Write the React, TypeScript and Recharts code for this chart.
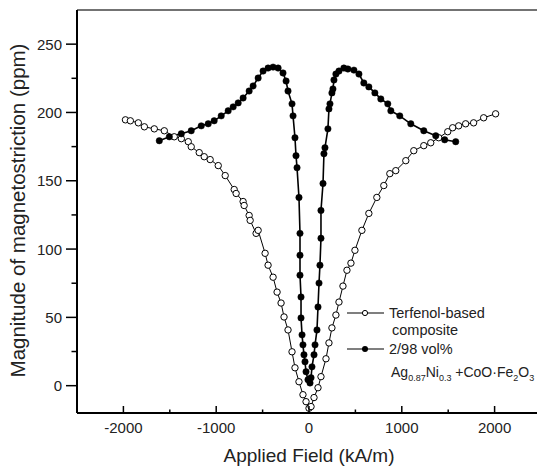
import React from 'react';
import { LineChart, Line, XAxis, YAxis, ReferenceLine, Legend } from 'recharts';

const FONT = '"Liberation Sans", Arial, Helvetica, sans-serif';

// Terfenol-based composite (open circles)
const terfenolField = [
  -1978, -1925, -1839, -1774, -1667, -1559, -1452, -1376, -1301, -1269, -1183, -1129,
  -1065, -978, -903, -806, -785, -710, -699, -645, -634, -570, -548, -473, -441, -387,
  -344, -301, -269, -226, -183, -151, -108, -65, -32, 0,
  22, 54, 97, 129, 183, 215, 247, 290, 323, 366, 409, 452, 495, 570, 645, 731, 806,
  871, 935, 1043, 1129, 1237, 1312, 1398, 1495, 1548, 1613, 1688, 1774, 1882, 2011,
];
const terfenolStrain = [
  194.6, 193.9, 192.4, 189.5, 188.0, 186.6, 182.2, 180.8, 178.6, 174.9, 170.6, 167.6,
  165.5, 161.1, 153.8, 143.6, 140.7, 134.8, 131.9, 124.6, 121.0, 111.5, 113.7, 96.9, 88.2, 79.4,
  68.5, 60.5, 50.3, 40.8, 24.8, 13.1, 2.9, -6.6, -11.7, -16.5,
  -15.3, -8.7, -1.5, 6.6, 19.7, 31.3, 42.3, 51.7, 61.2, 72.9, 84.5, 89.7, 99.1, 113.7, 126.1, 137.8, 146.5,
  155.2, 157.4, 164.7, 172.0, 175.7, 177.8, 181.5, 185.9, 188.8, 190.2, 191.7, 192.4, 196.1, 199.0,
];

// 2/98 vol% Ag0.87Ni0.3 + CoO·Fe2O3 (filled circles)
const agField = [
  -1613, -1505, -1376, -1269, -1161, -1086, -1022, -946, -871, -817, -763, -710, -645,
  -602, -548, -495, -441, -387, -333, -280, -247, -226, -183, -172, -151, -140, -129,
  -108, -97, -97, -97, -86, -86, -75, -65, -54, -43, -32, -11, 11,
  22, 32, 54, 65, 86, 97, 108, 118, 129, 129, 151, 161, 172, 204, 215, 226, 247, 258,
  269, 290, 323, 376, 419, 484, 538, 591, 645, 710, 774, 849, 882, 978, 1097, 1237,
  1366, 1462, 1581,
];
const agStrain = [
  179.3, 182.2, 184.4, 186.6, 190.2, 191.7, 193.9, 197.5, 201.2, 204.1, 207.0, 210.6, 215.7,
  219.4, 225.2, 230.3, 232.5, 233.2, 232.5, 228.9, 223.0, 215.7, 206.3, 197.5, 181.5, 168.4, 159.6,
  137.8, 111.5, 95.5, 80.9, 64.9, 49.6, 37.2, 29.9, 22.6, 17.5, 10.2, 4.4, 2.0,
  5.8, 13.8, 22.6, 29.9, 40.8, 57.6, 75.1, 88.2, 107.9, 128.3, 148.0, 169.8, 174.2, 188.0, 202.6, 206.3, 214.3, 217.2,
  223.8, 228.1, 230.3, 232.5, 231.8, 231.0, 228.1, 221.6, 218.7, 214.3, 209.9, 206.3, 201.2, 197.5, 191.7, 186.6,
  182.9, 180.0, 178.6,
];

const xTicks = [-2000, -1500, -1000, -500, 0, 500, 1000, 1500, 2000];
const yTicks = [0, 25, 50, 75, 100, 125, 150, 175, 200, 225, 250];

const terfenolData = terfenolField.map((x, i) => ({ x, y: terfenolStrain[i] }));
const agData = agField.map((x, i) => ({ x, y: agStrain[i] }));

const XTick = (props: any) => {
  const { x, y, payload } = props;
  const major = payload.value % 1000 === 0;
  return (
    <g>
      <line x1={x} x2={x} y1={y} y2={y - (major ? 7 : 3.5)} stroke="#000" strokeWidth={1.5} />
      {major && (
        <text x={x} y={y + 20} textAnchor="middle" fontSize={15} fill="#222" fontFamily={FONT}>
          {payload.value}
        </text>
      )}
    </g>
  );
};

const YTick = (props: any) => {
  const { x, y, payload } = props;
  const major = payload.value % 50 === 0;
  return (
    <g>
      <line x1={x - (major ? 11 : 5.5)} x2={x} y1={y} y2={y} stroke="#000" strokeWidth={1.5} />
      {major && (
        <text x={x - 15} y={y + 5.5} textAnchor="end" fontSize={15} fill="#222" fontFamily={FONT}>
          {payload.value}
        </text>
      )}
    </g>
  );
};

const YTitle = ({ viewBox }: any) => (
  <text
    transform={`translate(${viewBox.x + 25}, ${viewBox.y + viewBox.height / 2 - 1}) rotate(-90)`}
    textAnchor="middle"
    fontSize={20.5}
    fill="#222"
    fontFamily={FONT}
  >
    Magnitude of magnetostriction (ppm)
  </text>
);

const LegendBox = () => (
  <svg width={200} height={90} style={{ overflow: 'visible' }}>
    <g fontFamily={FONT} fill="#222" fontSize={14.5}>
      <line x1={7} x2={44} y1={15} y2={15} stroke="#000" strokeWidth={1.2} />
      <circle cx={25} cy={15} r={2.6} fill="#fff" stroke="#000" strokeWidth={1} />
      <text x={49} y={20}>Terfenol-based</text>
      <text x={52} y={37}>composite</text>
      <line x1={7} x2={44} y1={51} y2={51} stroke="#000" strokeWidth={1.2} />
      <circle cx={25} cy={51} r={3} fill="#000" />
      <text x={49} y={56}>2/98 vol%</text>
      <text x={51} y={79} fontSize={14}>
        Ag<tspan fontSize={9} dy={4}>0.87</tspan>
        <tspan dy={-4}>Ni</tspan>
        <tspan fontSize={9} dy={4}>0.3</tspan>
        <tspan dy={-4}> +CoO·Fe</tspan>
        <tspan fontSize={9} dy={4}>2</tspan>
        <tspan dy={-4}>O</tspan>
        <tspan fontSize={9} dy={4}>3</tspan>
      </text>
    </g>
  </svg>
);

export default function App() {
  return (
    <div style={{ position: 'absolute', left: 0, top: 0, width: 537, height: 471, overflow: 'hidden', background: '#fff' }}>
      <LineChart width={560} height={471} margin={{ top: 10, right: 19, bottom: 0, left: 0 }}>
        <XAxis
          dataKey="x"
          type="number"
          domain={[-2500, 2500]}
          ticks={xTicks}
          allowDataOverflow
          height={58}
          tickSize={0}
          tickMargin={0}
          tickLine={false}
          tick={<XTick />}
          axisLine={{ stroke: '#000', strokeWidth: 2 }}
          label={{ value: 'Applied Field (kA/m)', position: 'insideBottom', offset: 9, fontSize: 19, fill: '#222', fontFamily: FONT }}
        />
        <YAxis
          type="number"
          domain={[-20, 275]}
          ticks={yTicks}
          allowDataOverflow
          width={77}
          tickSize={0}
          tickMargin={0}
          tickLine={false}
          tick={<YTick />}
          axisLine={{ stroke: '#000', strokeWidth: 2 }}
          label={YTitle}
        />
        <ReferenceLine y={275} stroke="#444" strokeWidth={1.5} />
        <Line
          data={terfenolData}
          dataKey="y"
          stroke="#000"
          strokeWidth={1}
          dot={{ r: 3.2, fill: '#fff', stroke: '#000', strokeWidth: 1 }}
          isAnimationActive={false}
        />
        <Line
          data={agData}
          dataKey="y"
          stroke="#000"
          strokeWidth={1.6}
          dot={{ r: 3.2, fill: '#000', stroke: '#000', strokeWidth: 0.5 }}
          isAnimationActive={false}
        />
        <Legend
          layout="horizontal"
          verticalAlign="middle"
          align="center"
          content={LegendBox}
          wrapperStyle={{ left: 340, top: 298, width: 200, height: 90 }}
        />
      </LineChart>
    </div>
  );
}
